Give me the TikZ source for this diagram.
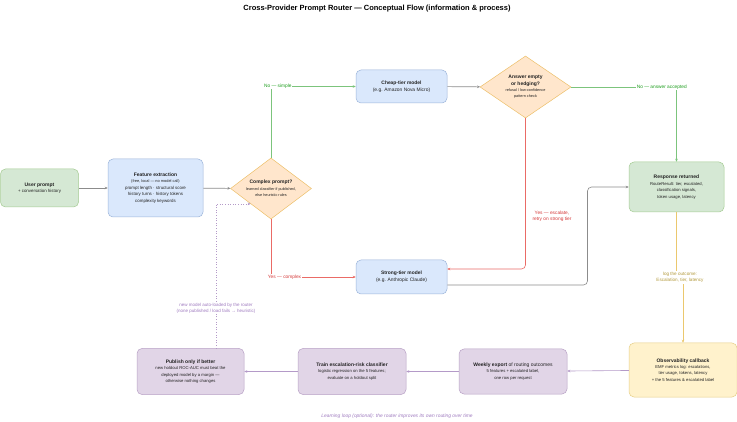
\documentclass[tikz,border=0pt]{standalone}
\usepackage{fontspec}
\setmainfont{Liberation Sans}
\usetikzlibrary{shapes.geometric,arrows.meta,calc}
\definecolor{gfill}{HTML}{D5E8D4}\definecolor{gline}{HTML}{A6CC94}
\definecolor{bfill}{HTML}{DAE8FC}\definecolor{bline}{HTML}{9DB5DA}
\definecolor{ofill}{HTML}{FFE6CC}\definecolor{oline}{HTML}{EDC06A}
\definecolor{yfill}{HTML}{FFF2CC}\definecolor{yline}{HTML}{E6CF88}
\definecolor{pfill}{HTML}{E1D5E7}\definecolor{pline}{HTML}{B9A2C6}
\definecolor{edgegray}{HTML}{8C8C8C}
\definecolor{edgegreen}{HTML}{7CC47C}\definecolor{txtgreen}{HTML}{1E9E1E}
\definecolor{edgered}{HTML}{EA6B66}\definecolor{txtred}{HTML}{D63B3B}
\definecolor{edgepurple}{HTML}{B49AC8}\definecolor{txtpurple}{HTML}{A07CC0}
\definecolor{edgeyellow}{HTML}{EBC86E}\definecolor{txtyellow}{HTML}{B39A3C}
\definecolor{bodytxt}{HTML}{222222}
\begin{document}
\begin{tikzpicture}[x=1pt,y=-1pt,
  box/.style={rectangle, rounded corners=5pt, draw, line width=0.5pt, inner sep=0pt, align=center, text=bodytxt},
  gbox/.style={box, fill=gfill, draw=gline},
  bbox/.style={box, fill=bfill, draw=bline},
  ybox/.style={box, fill=yfill, draw=yline},
  pbox/.style={box, fill=pfill, draw=pline},
  dia/.style={diamond, draw=oline, fill=ofill, line width=0.5pt, inner sep=0pt},
  bodyf/.style={font=\fontsize{4.4}{6.4}\selectfont},
  tip/.style={-{Stealth[length=3pt,width=2.6pt]}},
  conn/.style={tip, line width=0.6pt},
  gar/.style={conn, draw=edgegray},
  grn/.style={conn, draw=edgegreen},
  red/.style={conn, draw=edgered},
  pur/.style={conn, draw=edgepurple},
  yel/.style={conn, draw=edgeyellow},
  lbl/.style={fill=white, inner sep=0.6pt, align=center, font=\fontsize{4.8}{6.3}\selectfont}
]
\path[use as bounding box, fill=white] (0,0) rectangle (737,422);

\node[font=\fontsize{7.5}{9}\selectfont\bfseries] (title) at (377,9)
  {Cross-Provider Prompt Router — Conceptual Flow (information \& process)};

% nodes
\node[gbox, bodyf, minimum width=78pt, minimum height=38pt] (up) at (39.5,188)
  {{\fontsize{5}{6.4}\selectfont\bfseries User prompt}\\+ conversation history};
\node[bbox, bodyf, minimum width=95pt, minimum height=58pt] (fe) at (155.5,188)
  {{\fontsize{5}{6.4}\selectfont\bfseries Feature extraction}\\{\fontsize{3.9}{6.4}\selectfont (free, local — no model call)}\\prompt length · structural score\\history turns · history tokens\\complexity keywords};
\node[dia, minimum width=81pt, minimum height=61pt] (cx) at (271,188.5) {};
\node[align=center, text=bodytxt, font=\fontsize{3.8}{6.3}\selectfont] (cxt) at (cx)
  {{\fontsize{5}{6.3}\selectfont\bfseries Complex prompt?}\\learned classifier if published,\\else heuristic rules};
\node[bbox, font=\fontsize{4.9}{6.6}\selectfont, minimum width=91pt, minimum height=33pt] (cheap) at (401.5,86.5)
  {{\bfseries Cheap-tier model}\\(e.g. Amazon Nova Micro)};
\node[bbox, font=\fontsize{4.9}{6.6}\selectfont, minimum width=91pt, minimum height=34pt] (strong) at (401.5,277)
  {{\bfseries Strong-tier model}\\(e.g. Anthropic Claude)};
\node[dia, minimum width=91pt, minimum height=62pt] (ans) at (525.5,87) {};
\node[align=center, text=bodytxt, font=\fontsize{3.8}{6.4}\selectfont] (anst) at (ans)
  {{\fontsize{5}{6.8}\selectfont\bfseries Answer empty}\\{\fontsize{5}{6.6}\selectfont\bfseries or hedging?}\\refusal / low-confidence\\pattern check};
\node[gbox, font=\fontsize{4.2}{6.5}\selectfont, minimum width=95pt, minimum height=50pt] (resp) at (676.5,187)
  {{\fontsize{5}{6.5}\selectfont\bfseries Response returned}\\RouteResult: tier, escalated,\\classification signals,\\token usage, latency};
\node[ybox, font=\fontsize{4.2}{6.4}\selectfont, minimum width=108pt, minimum height=54pt] (obs) at (683,370)
  {{\fontsize{5}{6.4}\selectfont\bfseries Observability callback}\\EMF metrics log: escalations,\\tier usage, tokens, latency\\+ the 5 features \& escalated label};
\node[pbox, font=\fontsize{4.2}{6.4}\selectfont, minimum width=108pt, minimum height=45pt] (wk) at (513,371.5)
  {{\fontsize{5}{6.4}\selectfont{\bfseries Weekly export} of routing outcomes}\\5 features + escalated label,\\one row per request};
\node[pbox, font=\fontsize{4.2}{6.4}\selectfont, minimum width=108pt, minimum height=46pt] (tr) at (352,371.5)
  {{\fontsize{5}{6.4}\selectfont\bfseries Train escalation-risk classifier}\\logistic regression on the 5 features;\\evaluate on a holdout split};
\node[pbox, font=\fontsize{4.2}{6.4}\selectfont, minimum width=107pt, minimum height=46pt] (pub) at (190.5,371.5)
  {{\fontsize{5}{6.4}\selectfont\bfseries Publish only if better}\\new holdout ROC-AUC must beat the\\deployed model by a margin —\\otherwise nothing changes};

% connectors
\draw[gar] (up) -- (fe);
\draw[gar] (fe) -- (cx);
\draw[grn] (cx.north) |- (cheap.west) node[lbl, text=txtgreen, pos=0.54] (lno) {No — simple};
\draw[red] (cx.south) |- (strong.west) node[lbl, text=txtred, pos=0.58] (lyes) {Yes — complex};
\draw[gar] (cheap) -- (ans);
\draw[grn] (ans.east) -| (resp.north) node[lbl, text=txtgreen, pos=0.43] (lacc) {No — answer accepted};
\draw[red, rounded corners=4pt] (ans.south) |- ([yshift=8pt]strong.east);
\node[lbl, text=txtred] (lesc) at (552,216.5) {Yes — escalate,\\retry on strong tier};
\coordinate (jx) at (587.5,187);
\draw[gar, rounded corners=4pt] ([yshift=-8pt]strong.east) -| (jx) -- (resp.west);
\coordinate (yj1) at (676.5,277);
\coordinate (yj2) at (683,277);
\draw[yel] (resp.south) -- (yj1) -- (yj2) -- (obs.north);
\node[lbl, text=txtyellow, font=\fontsize{4.6}{6.6}\selectfont] (llog) at (680,277.5) {log the outcome:\\Escalation, tier, latency};
\draw[pur] (obs) -- (wk);
\draw[pur] (wk) -- (tr);
\draw[pur] (tr) -- (pub);
\coordinate (pd) at ($(cx.west)!0.5!(cx.south)$);
\draw[pur, dotted, line width=0.6pt] ([xshift=25.5pt]pub.north) |- (pd);
\node[lbl, text=txtpurple, font=\fontsize{4.5}{6.5}\selectfont] (lnew) at (216,308.5) {new model auto-loaded by the router\\(none published / load fails → heuristic)};

\node[font=\fontsize{4.9}{6}\selectfont\itshape, text=txtpurple] (foot) at (397,416)
  {Learning loop (optional): the router improves its own routing over time};
\end{tikzpicture}
\end{document}
